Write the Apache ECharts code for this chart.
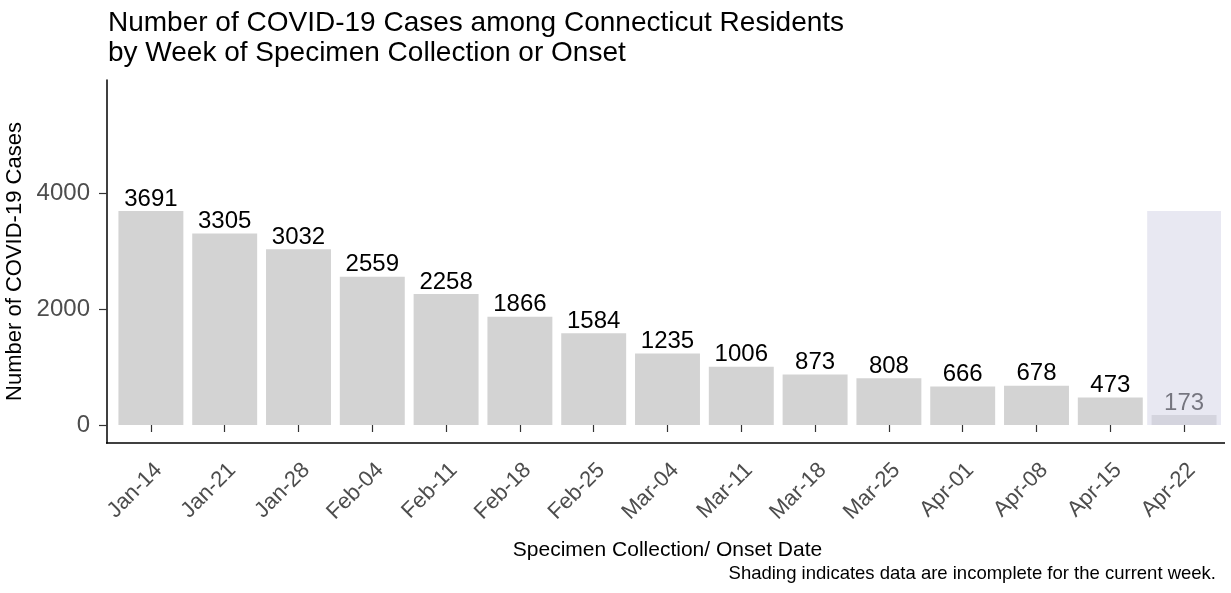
<!DOCTYPE html>
<html>
<head>
<meta charset="utf-8">
<script src="https://cdn.jsdelivr.net/npm/echarts@6/dist/echarts.min.js"></script>
<style>
    html, body { margin: 0; padding: 0; background: #fff; }
    #chart { width: 1231px; height: 593px; }
</style>
</head>
<body>
<div id="chart"></div>
<script>
    // weeks of specimen collection / onset
    var weeks = ['Jan-14', 'Jan-21', 'Jan-28', 'Feb-04', 'Feb-11', 'Feb-18', 'Feb-25',
        'Mar-04', 'Mar-11', 'Mar-18', 'Mar-25', 'Apr-01', 'Apr-08', 'Apr-15', 'Apr-22'];
    var cases = [3691, 3305, 3032, 2559, 2258, 1866, 1584, 1235, 1006, 873, 808, 666, 678, 473, 173];
    var yTicks = [0, 2000, 4000];

    // shading covers the current (last) week up to the tallest bar
    var maxCases = Math.max.apply(null, cases);
    var shade = cases.map(function (v, i) { return i === cases.length - 1 ? maxCases : null; });

    var font = 'Liberation Sans, Arial, sans-serif';
    var myChart = echarts.init(document.getElementById('chart'));

    myChart.setOption({
        animation: false,
        title: [
            {
                text: 'Number of COVID-19 Cases among Connecticut Residents\nby Week of Specimen Collection or Onset',
                left: 103,
                top: 3,
                textStyle: { fontFamily: font, fontSize: 28, fontWeight: 'normal', color: '#000', lineHeight: 30 }
            },
            {
                text: 'Shading indicates data are incomplete for the current week.',
                right: 10,
                bottom: 5,
                textStyle: { fontFamily: font, fontSize: 18.5, fontWeight: 'normal', color: '#000' }
            }
        ],
        grid: { left: 114, right: 10, top: 80, bottom: 150, outerBoundsMode: 'none' },
        xAxis: [
            {
                type: 'category',
                data: weeks,
                axisLine: { show: false },
                axisTick: { show: true, length: 7, alignWithLabel: true, lineStyle: { color: '#333', width: 1.2 } },
                axisLabel: {
                    rotate: 45,
                    margin: 16,
                    verticalAlign: 'top',
                    color: '#4d4d4d',
                    fontFamily: font,
                    fontSize: 22
                },
                name: 'Specimen Collection/ Onset Date',
                nameLocation: 'middle',
                nameGap: 97,
                nameTextStyle: { fontFamily: font, fontSize: 21, color: '#000' }
            },
            {
                type: 'category',
                data: weeks,
                show: false
            }
        ],
        yAxis: {
            type: 'value',
            min: -310,
            max: 5950,
            offset: 7,
            splitLine: { show: false },
            axisLine: { show: true, onZero: false, lineStyle: { color: '#000', width: 1.5 } },
            axisTick: { show: true, length: 8, customValues: yTicks, lineStyle: { color: '#333', width: 1.2 } },
            axisLabel: {
                customValues: yTicks,
                margin: 17,
                color: '#4d4d4d',
                fontFamily: font,
                fontSize: 24,
                formatter: function (v) { return String(v); }
            },
            name: 'Number of COVID-19 Cases',
            nameLocation: 'middle',
            nameGap: 80,
            nameTextStyle: { fontFamily: font, fontSize: 22, color: '#000' }
        },
        graphic: [
            {
                type: 'line',
                shape: { x1: 106, y1: 443, x2: 1225, y2: 443 },
                style: { stroke: '#000', lineWidth: 1.5 }
            }
        ],
        series: [
            {
                name: 'Cases',
                type: 'bar',
                data: cases,
                barWidth: '88%',
                itemStyle: { color: '#d3d3d3' },
                label: {
                    show: true,
                    position: 'top',
                    distance: 0,
                    color: '#000',
                    fontFamily: font,
                    fontSize: 24
                },
                z: 2
            },
            {
                name: 'Incomplete',
                type: 'bar',
                xAxisIndex: 1,
                data: shade,
                barWidth: '100%',
                itemStyle: { color: 'rgba(213,213,231,0.55)' },
                silent: true,
                z: 5
            }
        ]
    });
</script>
</body>
</html>
